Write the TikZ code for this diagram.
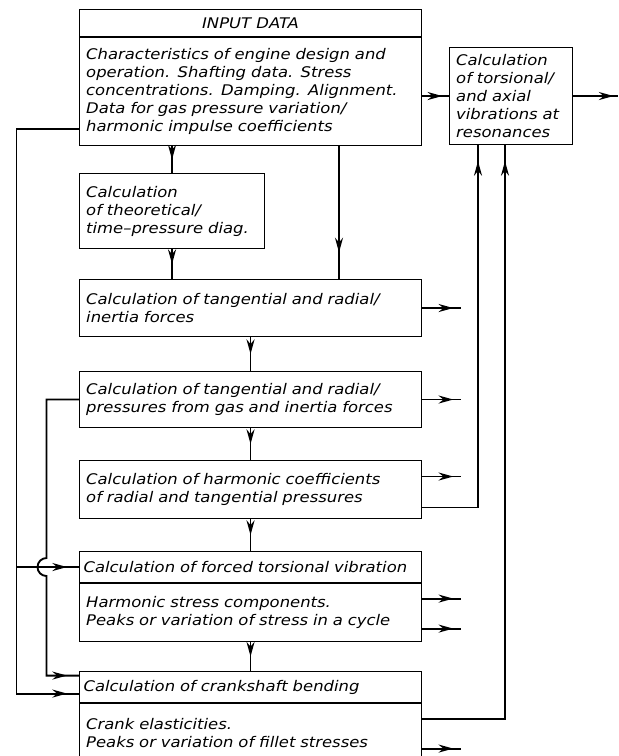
\documentclass[tikz,border=0pt]{standalone}
\usepackage{fontspec}
\setmainfont{DejaVu Sans}[ItalicFont={DejaVu Sans Oblique}, ItalicFeatures={FakeStretch=1.12}]
\usetikzlibrary{positioning, arrows.meta, decorations.markings}

\tikzset{
  box/.style={draw, line width=0.8pt, anchor=north west, inner xsep=5pt, inner ysep=1pt,
    align=left, font=\fontsize{11}{13.5}\selectfont\itshape},
  flow/.style={line width=1.4pt, postaction={decorate},
    decoration={markings, mark=at position #1 with {\arrow{Stealth[length=11pt,width=6pt]}}}},
  flow/.default=0.5,
}

\begin{document}
\begin{tikzpicture}[x=0.75pt,y=-0.75pt]
  \clip (0,0) rectangle (618,756);
  % input data and resonance box
  \node[box, minimum width=256.5pt, minimum height=20.25pt, align=center] (in-head) at (79,9) {INPUT DATA};
  \node[box, below=0pt of in-head, text width=246.5pt, minimum height=81pt] (in-body)
    {Characteristics of engine design and\\operation. Shafting data. Stress\\concentrations. Damping. Alignment.\\Data for gas pressure variation/\\harmonic impulse coefficients};
  \node[box, text width=82.25pt, minimum height=72.75pt] (res) at (449,47)
    {Calculation\\of torsional/\\and axial\\vibrations at\\resonances};
  % calculation chain
  \node[box, text width=128.75pt, minimum height=56.25pt] (diag) at (79,173)
    {Calculation\\of theoretical/\\time--pressure diag.};
  \node[box, text width=246.5pt, minimum height=42.75pt] (inertia) at (79,279)
    {Calculation of tangential and radial/\\inertia forces};
  \node[box, text width=246.5pt, minimum height=42pt] (gas) at (79,371)
    {Calculation of tangential and radial/\\pressures from gas and inertia forces};
  \node[box, text width=246.5pt, minimum height=43.5pt] (harm) at (79,460)
    {Calculation of harmonic coefficients\\of radial and tangential pressures};
  \node[box, text width=250.5pt, minimum height=23.25pt, inner xsep=3pt] (forced-head) at (79,551)
    {Calculation of forced torsional vibration};
  \node[box, below=0pt of forced-head, text width=246.5pt, minimum height=43.5pt] (forced-body)
    {Harmonic stress components.\\Peaks or variation of stress in a cycle};
  \node[box, text width=250.5pt, minimum height=23.25pt, inner xsep=3pt] (crank-head) at (79,671)
    {Calculation of crankshaft bending};
  \node[box, below=0pt of crank-head, text width=246.5pt, minimum height=44.25pt] (crank-body)
    {Crank elasticities.\\Peaks or variation of fillet stresses};

  % helper points
  \coordinate (tap) at (339,0);
  \coordinate (busL) at (16.5,0);
  \coordinate (busM) at (46.5,0);
  \coordinate (res-in1) at ([xshift=21.75pt]res.south west);
  \coordinate (res-in2) at ([xshift=42pt]res.south west);
  \coordinate (crank-in1) at ([yshift=8.6pt]crank-head.west);
  \coordinate (crank-in2) at ([yshift=-4.9pt]crank-head.west);
  \coordinate (jump) at (busM |- forced-head.west);

  % main flow
  \draw[flow=0.75] (res.west -| in-body.east) -- (res.west);
  \draw[flow=0.9] (res.east) -- ++(45,0);
  \draw[flow=0.5] (in-body.south -| diag.north) -- (diag.north);
  \draw[flow=0.5] (diag.south) -- (inertia.north -| diag.south);
  \draw[flow=0.8] (in-body.south -| tap) -- (inertia.north -| tap);
  \foreach \a/\b in {inertia/gas, gas/harm, harm/forced-head, forced-body/crank-head}
    \draw[flow=0.5] (\a.south) -- (\b.north);

  % outputs to the right
  \draw[flow=0.8] (inertia.east) -- ++(39,0);
  \draw[flow=0.8] (gas.east) -- ++(39,0);
  \draw[flow=0.8] ([yshift=9.75pt]harm.east) -- ++(39,0);
  \draw[flow=0.8] ([yshift=10.5pt]forced-body.east) -- ++(39,0);
  \draw[flow=0.8] ([yshift=-12pt]forced-body.east) -- ++(39,0);
  \draw[flow=0.8] ([yshift=-11.6pt]crank-body.east) -- ++(39,0);

  % returns to the resonance box
  \draw[flow=-12pt] ([yshift=-13.5pt]harm.east) -| (res-in1);
  \draw[flow=-12pt] ([yshift=10.9pt]crank-body.east) -| (res-in2);

  % feedback on the left
  \draw[flow=-9pt] ([yshift=-27.75pt]in-body.west) -| (busL |- crank-in2) -- (crank-in2);
  \draw[flow=-9pt] (busL |- forced-head.west) -- (forced-head.west);
  \draw[flow=-9pt] (gas.west) -| ([yshift=6.75pt]jump)
    arc[start angle=90, end angle=270, radius=6.75pt] -- (busM |- crank-in1) -- (crank-in1);
\end{tikzpicture}
\end{document}
